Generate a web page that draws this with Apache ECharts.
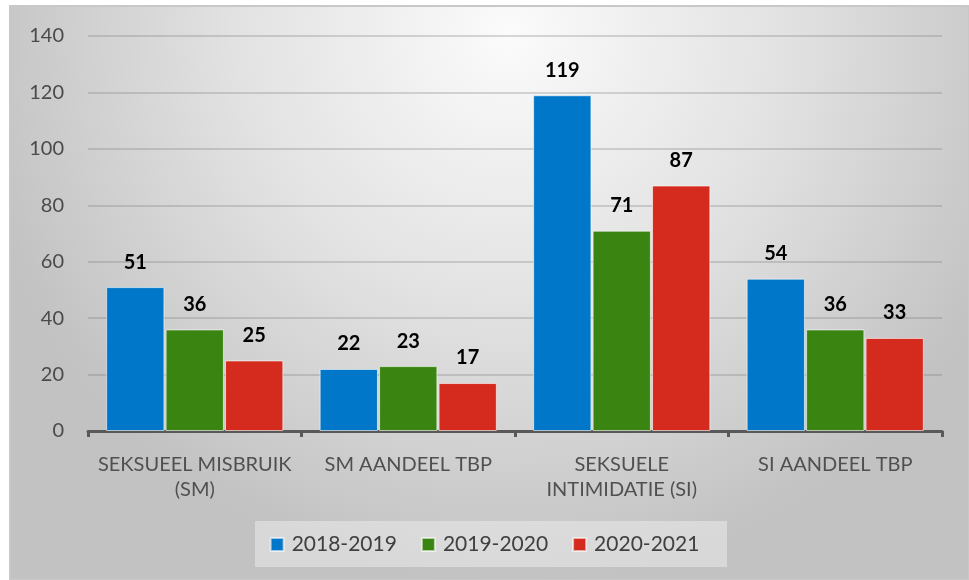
<!DOCTYPE html>
<html><head><meta charset="utf-8">
<script src="https://cdn.jsdelivr.net/npm/echarts@6/dist/echarts.min.js"></script>
<style>html,body{margin:0;padding:0;background:#fff}#c{width:969px;height:580px}</style>
</head><body><div id="c"></div>
<script>
const categories = ['SEKSUEEL MISBRUIK\n(SM)', 'SM AANDEEL TBP', 'SEKSUELE\nINTIMIDATIE (SI)', 'SI AANDEEL TBP'];
const seriesNames = ['2018-2019', '2019-2020', '2020-2021'];
const s2018 = [51, 22, 119, 54];
const s2019 = [36, 23, 71, 36];
const s2020 = [25, 17, 87, 33];
const colors = ['#0077c8', '#3a8511', '#d52b1e'];
const yTicks = { min: 0, max: 140, interval: 20 };

const font = 'Lato, "Open Sans", sans-serif';
const chart = echarts.init(document.getElementById('c'), null, { renderer: 'canvas' });
const mk = (name, data, color) => ({
  name, type: 'bar', data,
  barGap: '2%', barCategoryGap: '17%',
  itemStyle: { color, borderColor: 'rgba(255,255,255,0.6)', borderWidth: 1 },
  label: { show: true, position: 'top', distance: 15, color: '#000', fontWeight: 'bold', fontSize: 20, fontFamily: font },
  emphasis: { disabled: true }
});
chart.setOption({
  animation: false,
  graphic: [
    { type: 'rect', z: -10, shape: { x: 10, y: 6, width: 959, height: 574 },
      style: { fill: new echarts.graphic.RadialGradient(0.52, 0.05, 0.95, [
        { offset: 0, color: '#fbfbfb' }, { offset: 0.5, color: '#e2e2e2' }, { offset: 1, color: '#c2c2c2' }]),
        stroke: '#c8c8c8', lineWidth: 2 } },
    { type: 'rect', z: -5, shape: { x: 255, y: 521, width: 472, height: 46 },
      style: { fill: 'rgba(235,235,235,0.55)' } }
  ],
  grid: { left: 88, right: 27, top: 36, bottom: 149, containLabel: false },
  legend: {
    data: seriesNames, bottom: 20, left: 'center', itemWidth: 13, itemHeight: 13, itemGap: 24,
    icon: 'rect',
    textStyle: { fontSize: 21, color: '#404040', fontFamily: font, padding: [0, 0, 0, 3] }
  },
  xAxis: {
    type: 'category', data: categories,
    axisLine: { lineStyle: { color: '#595959', width: 3 } },
    axisTick: { show: true, length: 6, lineStyle: { color: '#595959', width: 3 } },
    axisLabel: { interval: 0, fontSize: 20, color: '#505050', fontFamily: font, lineHeight: 25, margin: 21 }
  },
  yAxis: {
    type: 'value', min: yTicks.min, max: yTicks.max, interval: yTicks.interval,
    axisLine: { show: false }, axisTick: { show: false },
    axisLabel: { fontSize: 20, color: '#4a4a4a', fontFamily: font, margin: 24 },
    splitLine: { lineStyle: { color: 'rgba(120,120,120,0.28)', width: 2 } }
  },
  series: [mk(seriesNames[0], s2018, colors[0]), mk(seriesNames[1], s2019, colors[1]), mk(seriesNames[2], s2020, colors[2])]
});
</script></body></html>
